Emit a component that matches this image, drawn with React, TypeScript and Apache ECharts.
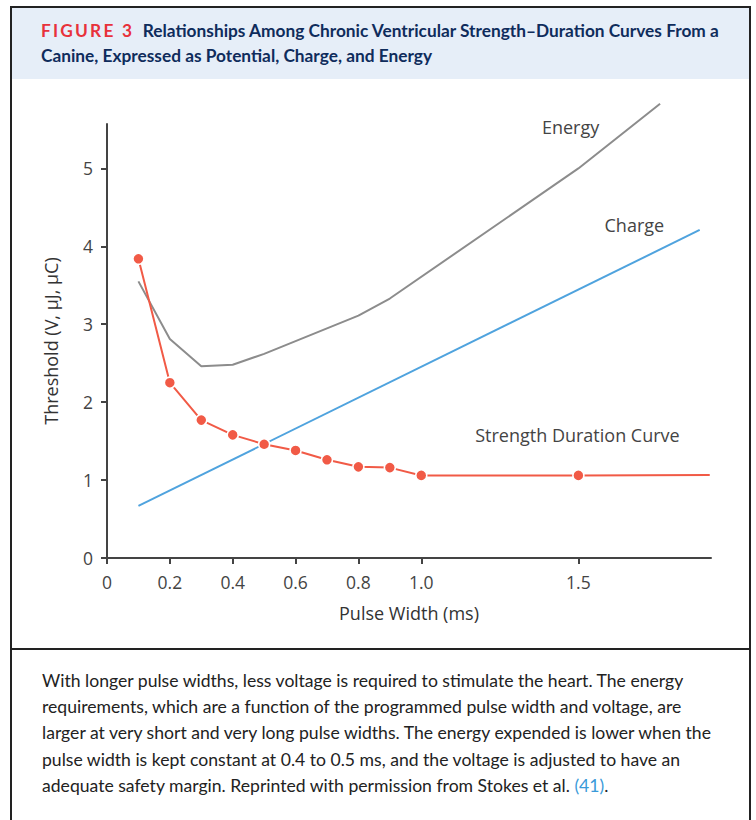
import React, { useEffect, useRef } from "react";
import * as echarts from "echarts";

const pulseWidths = [0.1, 0.2, 0.3, 0.4, 0.5, 0.6, 0.7, 0.8, 0.9, 1.0, 1.5, 1.918];
const strengthDuration = [3.84, 2.25, 1.77, 1.58, 1.46, 1.38, 1.26, 1.17, 1.16, 1.06, 1.06, 1.065];

const energyX = [0.1, 0.2, 0.3, 0.4, 0.5, 0.8, 0.9, 1.5, 1.76];
const energyY = [3.55, 2.81, 2.46, 2.48, 2.62, 3.11, 3.33, 5.0, 5.83];

const chargeX = [0.1, 1.886];
const chargeY = [0.67, 4.21];

const xTicks = [0, 0.2, 0.4, 0.6, 0.8, 1.0, 1.5];
const yTicks = [0, 1, 2, 3, 4, 5];

const seriesLabels = [
  { name: "Energy", coord: [1.475, 5.53] },
  { name: "Charge", coord: [1.678, 4.27] },
  { name: "Strength Duration Curve", coord: [1.497, 1.58] },
];

const captionLines = [
  "With longer pulse widths, less voltage is required to stimulate the heart. The energy",
  "requirements, which are a function of the programmed pulse width and voltage, are",
  "larger at very short and very long pulse widths. The energy expended is lower when the",
  "pulse width is kept constant at 0.4 to 0.5 ms, and the voltage is adjusted to have an",
  "adequate safety margin. Reprinted with permission from Stokes et al.",
];

const RED = "#F15A46";
const GRAY = "#8C8C8C";
const BLUE = "#4FA3DE";
const FONT = "'Open Sans', 'Noto Sans', sans-serif";

function Chart() {
  const ref = useRef<HTMLDivElement>(null);
  useEffect(() => {
    if (!ref.current) return;
    const chart = echarts.init(ref.current, null, { renderer: "svg" });
    const sdData = pulseWidths.map((x, i) =>
      i === pulseWidths.length - 1
        ? { value: [x, strengthDuration[i]], symbol: "none" }
        : { value: [x, strengthDuration[i]] }
    );
    chart.setOption({
      animation: false,
      textStyle: { fontFamily: FONT },
      grid: { left: 107, right: 45, top: 44, bottom: 90 },
      xAxis: {
        type: "value",
        min: 0,
        max: 1.922,
        name: "Pulse Width (ms)",
        nameLocation: "middle",
        nameGap: 46,
        nameTextStyle: { fontSize: 18, color: "#333", fontFamily: FONT },
        axisLine: { show: true, lineStyle: { color: "#444", width: 2 } },
        axisTick: { show: true, length: 6, lineStyle: { color: "#444", width: 2 }, customValues: xTicks },
        axisLabel: {
          customValues: xTicks,
          fontSize: 17.5,
          color: "#444",
          margin: 15,
          formatter: (v: number) => (v === 0 ? "0" : v.toFixed(1)),
        },
        splitLine: { show: false },
      },
      yAxis: {
        type: "value",
        min: 0,
        max: 5.57,
        name: "Threshold (V, μJ, μC)",
        nameLocation: "middle",
        nameGap: 47,
        nameTextStyle: { fontSize: 18, color: "#333", fontFamily: FONT },
        axisLine: { show: true, lineStyle: { color: "#444", width: 2 } },
        axisTick: { show: true, length: 6, lineStyle: { color: "#444", width: 2 }, customValues: yTicks },
        axisLabel: { customValues: yTicks, fontSize: 17.5, color: "#444", margin: 14 },
        splitLine: { show: false },
      },
      series: [
        {
          type: "line",
          name: "Energy",
          data: energyX.map((x, i) => [x, energyY[i]]),
          showSymbol: false,
          clip: false,
          lineStyle: { color: GRAY, width: 2 },
          itemStyle: { color: GRAY },
          z: 2,
        },
        {
          type: "line",
          name: "Charge",
          data: chargeX.map((x, i) => [x, chargeY[i]]),
          showSymbol: false,
          clip: false,
          lineStyle: { color: BLUE, width: 2 },
          itemStyle: { color: BLUE },
          z: 3,
        },
        {
          type: "line",
          name: "Strength Duration Curve",
          data: sdData,
          symbol: "circle",
          symbolSize: 11,
          clip: false,
          lineStyle: { color: RED, width: 2 },
          itemStyle: { color: RED, borderColor: "#fff", borderWidth: 1.5 },
          z: 4,
          markPoint: {
            symbol: "circle",
            symbolSize: 0,
            silent: true,
            label: {
              show: true,
              fontSize: 18,
              color: "#444",
              fontFamily: FONT,
              formatter: (p: any) => p.name,
            },
            data: seriesLabels.map((l) => ({ name: l.name, coord: l.coord })),
          },
        },
      ],
    });
    return () => chart.dispose();
  }, []);
  return <div ref={ref} style={{ position: "absolute", left: 0, top: 80, width: 756, height: 568 }} />;
}

export default function App() {
  return (
    <div
      style={{
        position: "absolute",
        left: 0,
        top: 0,
        width: 756,
        height: 820,
        background: "#fff",
        overflow: "hidden",
      }}
    >
      <div
        style={{
          position: "absolute",
          left: 10,
          top: 6,
          width: 741,
          height: 840,
          border: "2px solid #222",
          boxSizing: "border-box",
        }}
      />
      <div
        style={{
          position: "absolute",
          left: 12,
          top: 8,
          width: 737,
          height: 71,
          background: "#E6EEF8",
        }}
      />
      <div
        style={{
          position: "absolute",
          left: 41,
          top: 18,
          width: 705,
          fontFamily: "Lato, 'Noto Sans', sans-serif",
          fontWeight: 700,
          fontSize: 17.3,
          lineHeight: "25px",
          color: "#0F2C5C",
          whiteSpace: "nowrap",
        }}
      >
        <span style={{ color: "#E8313B", letterSpacing: 2.2 }}>FIGURE 3</span>
        <span>{"\u2002"}Relationships Among Chronic Ventricular Strength–Duration Curves From a</span>
        <br />
        <span>Canine, Expressed as Potential, Charge, and Energy</span>
      </div>
      <Chart />
      <div
        style={{
          position: "absolute",
          left: 11,
          top: 648,
          width: 739,
          height: 2,
          background: "#222",
        }}
      />
      <div
        style={{
          position: "absolute",
          left: 42,
          top: 668,
          width: 705,
          fontFamily: "Lato, 'Noto Sans', sans-serif",
          fontSize: 17.6,
          lineHeight: "26.2px",
          color: "#222",
          whiteSpace: "nowrap",
        }}
      >
        {captionLines.map((line, i) => (
          <div key={i}>
            {i === captionLines.length - 1 ? (
              <span>
                {line + " "}
                <span style={{ color: "#3A9AD9" }}>(41)</span>
                {"."}
              </span>
            ) : (
              line
            )}
          </div>
        ))}
      </div>
    </div>
  );
}
